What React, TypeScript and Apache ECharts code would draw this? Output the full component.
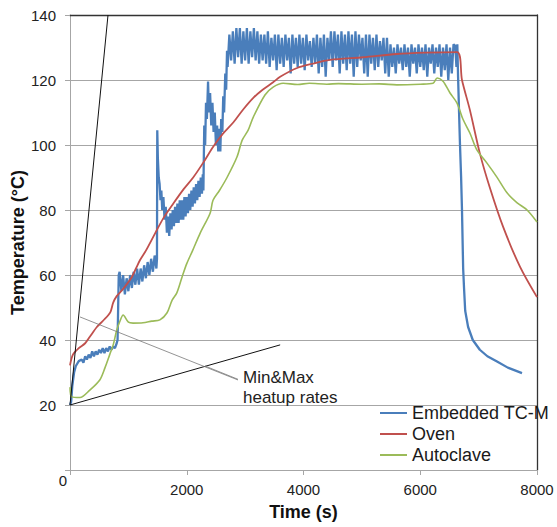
import React, { useEffect, useRef } from 'react';
import * as echarts from 'echarts';

const FONT = '"Liberation Sans", Arial, sans-serif';

const xTicks = [0, 2000, 4000, 6000, 8000];
const yTicks = [0, 20, 40, 60, 80, 100, 120, 140];

// Embedded TC-M (blue), early rise [time, temp]
const blueEarly: number[][] = [
  [0, 20], [20, 21], [40, 26], [70, 30], [100, 32], [150, 33.5], [200, 34], [230, 33], [260, 35], [290, 34],
  [320, 35.5], [350, 34.5], [380, 36.5], [410, 35], [440, 36.5], [470, 35.5], [500, 37], [530, 36], [560, 37.5],
  [590, 36], [620, 37.5], [650, 36.5], [680, 38], [710, 37], [740, 38], [770, 37.5], [800, 39], [815, 40],
  [825, 50], [835, 60],
];
// blue noisy band sampled every 30 s from 850 s
const blueBandAStart = 850;
const blueBandA = [61, 55, 60, 54, 59, 55, 60, 56, 61, 57, 62, 57, 62, 58, 63, 59, 64, 60, 65, 61, 66, 62];
// blue spikes and second ramp [time, temp]
const blueMid: number[][] = [
  [1490, 65], [1495, 104.5], [1505, 96], [1520, 90], [1535, 88], [1550, 83], [1565, 86], [1580, 80], [1600, 84],
  [1620, 77], [1640, 81], [1660, 73], [1680, 78], [1700, 72], [1720, 79], [1740, 74], [1760, 80], [1780, 75],
  [1800, 81], [1820, 76], [1840, 82], [1860, 76], [1880, 83], [1900, 77], [1920, 83], [1940, 77], [1960, 84],
  [1980, 78], [2000, 84], [2020, 79], [2040, 85], [2060, 80], [2080, 86], [2100, 81], [2120, 87], [2140, 82],
  [2160, 88], [2180, 83], [2200, 89], [2220, 84], [2240, 90], [2260, 85], [2275, 91], [2285, 86], [2300, 106],
  [2315, 100], [2330, 113], [2345, 108], [2365, 119.5], [2380, 110], [2400, 116], [2420, 106], [2440, 113],
  [2460, 104], [2480, 110], [2500, 100], [2520, 106], [2540, 98], [2560, 105], [2575, 98], [2590, 108],
  [2610, 104], [2625, 115], [2640, 110], [2660, 122], [2675, 117], [2690, 129],
];
// blue plateau band sampled every 30 s from 2700 s
const blueBandBStart = 2700;
const blueBandB = [
  124, 134, 126, 135, 125, 136, 127, 136, 125, 135,
  126, 136, 125, 135, 127, 136, 126, 135, 125, 134,
  126, 134, 125, 135, 124, 133, 126, 134, 123, 134,
  125, 133, 124, 134, 126, 133, 122, 134, 125, 133,
  124, 134, 125, 133, 123, 134, 126, 132, 124, 133,
  125, 134, 122, 133, 124, 134, 121, 133, 126, 135,
  124, 135, 126, 134, 122, 135, 125, 134, 123, 135,
  125, 134, 121, 135, 124, 134, 126, 133, 122, 134,
  121, 134, 125, 133, 123, 134, 124, 132, 126, 133,
  122, 133, 121, 131, 124, 130, 122, 131, 125, 130,
  123, 131, 124, 130, 121, 131, 125, 130, 122, 131,
  124, 130, 123, 131, 121, 130, 125, 131, 122, 130,
  124, 131, 121, 130, 123, 131, 120, 130, 122, 131,
];
// blue cool-down [time, temp]
const blueCool: number[][] = [
  [6600, 130.5], [6620, 124], [6635, 131], [6648, 121], [6665, 110], [6681, 100], [6700, 90], [6715, 80],
  [6735, 62], [6750, 56], [6770, 49], [6820, 44], [6900, 40], [7020, 37], [7150, 35], [7315, 33.4],
  [7500, 31.5], [7743, 29.8],
];

// Oven (red) [time, temp]
const oven: number[][] = [
  [0, 32.2], [50, 35.5], [150, 37.5], [260, 39], [340, 41], [460, 44], [570, 46], [690, 48.5], [740, 51.5],
  [800, 53.5], [900, 55.5], [1000, 57.8], [1060, 59.4], [1130, 62], [1200, 64.6], [1300, 67.5], [1460, 72.9],
  [1600, 77.5], [1770, 82], [1950, 86.5], [2110, 90], [2280, 94.5], [2450, 99.4], [2620, 103.5], [2800, 107],
  [2970, 111], [3140, 114.5], [3300, 117], [3480, 119.3], [3600, 121], [3890, 123.7], [4150, 125], [4450, 126.2],
  [5020, 127], [5600, 128], [6100, 128.4], [6630, 128.6], [6715, 120], [6850, 110.8], [7020, 97.5], [7190, 87],
  [7420, 74.8], [7710, 62.5], [8000, 53.2],
];

// Autoclave (green) [time, temp]
const autoclave: number[][] = [
  [0, 25.5], [30, 22.5], [170, 22.3], [340, 24.6], [510, 27.7], [600, 31.5], [680, 35.5], [740, 38.5],
  [800, 43], [860, 46], [910, 47.7], [1000, 45.5], [1080, 45.2], [1250, 45.3], [1400, 45.8], [1540, 46.2],
  [1660, 48.3], [1750, 52.3], [1830, 54.5], [1920, 59.4], [2000, 63.5], [2100, 67.5], [2230, 72.9], [2400, 79],
  [2450, 83], [2560, 86], [2690, 90], [2860, 96.3], [2950, 101.5], [3050, 104.5], [3140, 108.6], [3340, 115.4],
  [3480, 117.8], [3650, 119], [3900, 118.6], [4100, 119], [4400, 118.7], [4600, 118.9], [5000, 118.7],
  [5300, 118.8], [5600, 118.5], [6000, 118.7], [6220, 119], [6290, 120.6], [6390, 119.6], [6510, 116],
  [6630, 112.9], [6730, 108], [6850, 103.7], [6970, 98.5], [7140, 94.5], [7310, 90.2], [7490, 85.2],
  [7660, 82.2], [7830, 80], [8000, 76.3],
];

// heat-up rate lines and annotation pointers [time, temp]
const maxRateLine: number[][] = [[0, 20], [651, 140]];
const minRateLine: number[][] = [[0, 20], [3600, 38.5]];
const pointerA: number[][] = [[171, 47.1], [2878, 27.7]];
const pointerB: number[][] = [[2313, 32], [2878, 27.9]];

const BAND_STEP = 30;

function sampled(start: number, values: number[]): number[][] {
  return values.map((v, i) => [start + i * BAND_STEP, v]);
}

const blue: number[][] = [
  ...blueEarly,
  ...sampled(blueBandAStart, blueBandA),
  ...blueMid,
  ...sampled(blueBandBStart, blueBandB),
  ...blueCool,
];

const BLUE = '#4A7EBB';
const RED = '#C0504D';
const GREEN = '#9BBB59';
const GRIDC = '#A6A6A6';

export default function App() {
  const ref = useRef<HTMLDivElement>(null);
  useEffect(() => {
    const chart = echarts.init(ref.current!, null, { renderer: 'svg' });
    const option: any = {
      animation: false,
      textStyle: { fontFamily: FONT },
      grid: { left: 70, right: 20, top: 15, bottom: 57, outerBoundsMode: 'none', containLabel: false },
      legend: {
        orient: 'vertical',
        left: 380,
        top: 404,
        padding: 0,
        itemWidth: 27,
        itemHeight: 2,
        itemGap: 3,
        icon: 'rect',
        textStyle: { fontSize: 18, color: '#1a1a1a', fontFamily: FONT, lineHeight: 18 },
        data: ['Embedded TC-M', 'Oven', 'Autoclave'],
      },
      xAxis: [
        {
          type: 'value',
          min: xTicks[0],
          max: xTicks[xTicks.length - 1],
          interval: 2000,
          axisLine: { show: true, onZero: false, lineStyle: { color: GRIDC, width: 1 } },
          axisTick: { show: true, length: 5, lineStyle: { color: GRIDC } },
          axisLabel: {
            fontSize: 15,
            color: '#222',
            margin: 12,
            fontFamily: FONT,
            formatter: (v: number) => (v === 0 ? '' : String(v)),
          },
          splitLine: { show: false },
          name: 'Time (s)',
          nameLocation: 'middle',
          nameGap: 33,
          nameMoveOverlap: false,
          nameTextStyle: { fontSize: 18, fontWeight: 'bold', color: '#111', fontFamily: FONT },
        },
        {
          type: 'value',
          position: 'top',
          min: xTicks[0],
          max: xTicks[xTicks.length - 1],
          interval: 2000,
          axisLine: { show: true, onZero: false, lineStyle: { color: '#333', width: 1.3 } },
          axisTick: { show: false },
          axisLabel: { show: false },
          splitLine: { show: false },
        },
      ],
      yAxis: [
        {
          type: 'value',
          min: yTicks[0],
          max: yTicks[yTicks.length - 1],
          interval: 20,
          axisLine: { show: true, onZero: false, lineStyle: { color: GRIDC, width: 1 } },
          axisTick: { show: true, length: 5, lineStyle: { color: GRIDC } },
          axisLabel: {
            fontSize: 15,
            color: '#222',
            margin: 14,
            fontFamily: FONT,
            formatter: (v: number) => (v === 0 ? '' : String(v)),
          },
          splitLine: { show: true, lineStyle: { color: GRIDC, width: 1 } },
          name: 'Temperature (°C)',
          nameLocation: 'middle',
          nameRotate: 90,
          nameGap: 43,
          nameMoveOverlap: false,
          nameTextStyle: { fontSize: 18, fontWeight: 'bold', color: '#111', fontFamily: FONT },
        },
        {
          type: 'value',
          position: 'right',
          min: yTicks[0],
          max: yTicks[yTicks.length - 1],
          interval: 20,
          axisLine: { show: true, onZero: false, lineStyle: { color: '#333', width: 1.3 } },
          axisTick: { show: false },
          axisLabel: { show: false },
          splitLine: { show: false },
        },
      ],
      series: [
        {
          name: 'Embedded TC-M',
          type: 'line',
          data: blue,
          symbol: 'none',
          color: BLUE,
          lineStyle: { color: BLUE, width: 2.3 },
          z: 2,
        },
        {
          name: 'Oven',
          type: 'line',
          data: oven,
          symbol: 'none',
          smooth: 0.3,
          color: RED,
          lineStyle: { color: RED, width: 1.8 },
          z: 3,
        },
        {
          name: 'Autoclave',
          type: 'line',
          data: autoclave,
          symbol: 'none',
          smooth: 0.3,
          color: GREEN,
          lineStyle: { color: GREEN, width: 1.6 },
          z: 4,
        },
        {
          type: 'line',
          data: maxRateLine,
          symbol: 'none',
          silent: true,
          lineStyle: { color: '#111', width: 1 },
          z: 5,
        },
        {
          type: 'line',
          data: minRateLine,
          symbol: 'none',
          silent: true,
          lineStyle: { color: '#111', width: 1 },
          z: 5,
        },
        {
          type: 'line',
          data: pointerA,
          symbol: 'none',
          silent: true,
          lineStyle: { color: '#777', width: 0.8 },
          endLabel: {
            show: true,
            formatter: 'Min&Max\nheatup rates',
            color: '#222',
            fontSize: 17,
            lineHeight: 20,
            fontFamily: FONT,
            align: 'left',
            verticalAlign: 'middle',
            distance: 5,
            offset: [0, 8],
          },
          z: 5,
        },
        {
          type: 'line',
          data: pointerB,
          symbol: 'none',
          silent: true,
          lineStyle: { color: '#777', width: 0.8 },
          z: 5,
        },
      ],
    };
    chart.setOption(option);
    const origin = chart.convertToPixel({ gridIndex: 0 }, [xTicks[0], yTicks[0]]) as number[];
    chart.setOption({
      graphic: [
        {
          type: 'text',
          x: origin[0] - 7,
          y: origin[1] + 10,
          style: {
            text: String(xTicks[0]),
            fontSize: 15,
            fill: '#222',
            fontFamily: FONT,
            align: 'center',
            verticalAlign: 'middle',
          },
        },
      ],
    });
    return () => chart.dispose();
  }, []);
  return <div ref={ref} style={{ position: 'absolute', left: 0, top: 0, width: 557, height: 527 }} />;
}
